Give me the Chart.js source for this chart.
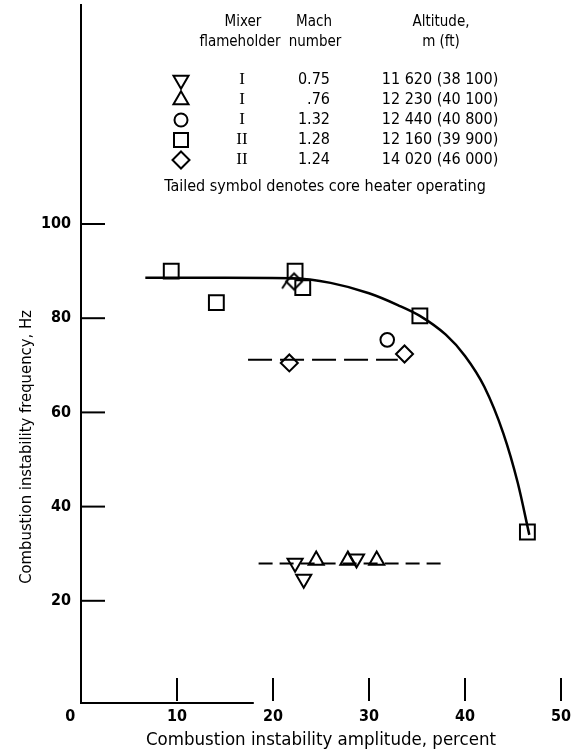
<!DOCTYPE html>
<html><head><meta charset="utf-8">
<script src="https://cdn.jsdelivr.net/npm/chart.js@4.4.0/dist/chart.umd.min.js"></script>
<style>html,body{margin:0;padding:0;background:#fff}#wrap{width:572px;height:752px;position:relative}</style>
</head><body><div id="wrap"><canvas id="c"></canvas></div>
<script>
// ---- data ----
const xTicks = [0, 10, 20, 30, 40, 50];
const yTicks = [20, 40, 60, 80, 100];
const squares  = [{x:9.4,y:90.0},{x:14.1,y:83.3},{x:22.3,y:90.0},{x:23.1,y:86.5},{x:35.3,y:80.5},{x:46.5,y:34.6}];
const circles  = [{x:31.9,y:75.4}];
const diamonds = [{x:21.7,y:70.5},{x:33.7,y:72.4}];
const triUp    = [{x:24.5,y:28.6},{x:27.8,y:28.6},{x:30.8,y:28.6}];
const triDown  = [{x:22.3,y:28.0},{x:23.2,y:24.6},{x:28.7,y:28.9}];
const tailed   = [{x:22.2,y:87.8}];
const curveX = [6.7, 15, 22, 26, 30, 33, 35.3, 38, 40, 42, 44, 45.5, 46.7];
const curveY = [88.6, 88.6, 88.5, 87.5, 85.3, 82.8, 80.5, 76.5, 72, 65.5, 55.5, 45, 34];
const dashHighX = [17.4, 33.0], dashHighY = [71.2, 71.2];
const dashLowX  = [18.5, 37.8], dashLowY  = [27.9, 27.9];
const xAxisLineEnd = 18;

const legendSymbols = ['triDown','triUp','circle','square','diamond'];
const flameholders  = ['I','I','I','II','II'];
const machNumbers   = ['0.75','.76','1.32','1.28','1.24'];
const altitudes     = ['11 620 (38 100)','12 230 (40 100)','12 440 (40 800)','12 160 (39 900)','14 020 (46 000)'];
const legendNote    = 'Tailed symbol denotes core heater operating';

const SANS = "'Liberation Sans Narrow','DejaVu Sans Condensed',sans-serif";
const SERIF = "'Liberation Serif','DejaVu Serif',serif";

// tailed-symbol point style
const tailImg = document.createElement('canvas');
tailImg.width = 30; tailImg.height = 30;
(function(){
  const g = tailImg.getContext('2d');
  g.strokeStyle = '#000'; g.lineWidth = 2;
  g.beginPath();
  g.moveTo(15, 7); g.lineTo(23, 15); g.lineTo(15, 23); g.lineTo(7, 15); g.closePath();
  g.stroke();
  g.beginPath(); g.moveTo(9, 13); g.lineTo(3, 22); g.stroke();
})();

const pts = arr => arr.map(p => ({x:p.x, y:p.y}));
const zipXY = (xs, ys) => xs.map((v,i) => ({x:v, y:ys[i]}));

function markerDS(data, style, radius, rotation){
  return {type:'scatter', data:pts(data), pointStyle:style, pointRadius:radius, pointHoverRadius:radius,
    pointRotation:rotation||0, borderColor:'#000', backgroundColor:'rgba(0,0,0,0)', pointBorderWidth:2, borderWidth:2, showLine:false};
}

function drawSym(ctx, kind, x, y){
  ctx.beginPath();
  if (kind==='triDown' || kind==='triUp'){
    const r = 8.7, s = kind==='triUp' ? 1 : -1;
    ctx.moveTo(x, y - s*r);
    ctx.lineTo(x + r*Math.cos(Math.PI/6), y + s*r/2);
    ctx.lineTo(x - r*Math.cos(Math.PI/6), y + s*r/2);
    ctx.closePath();
  } else if (kind==='circle'){
    ctx.arc(x, y, 6.5, 0, Math.PI*2);
  } else if (kind==='square'){
    ctx.rect(x-7, y-7, 14, 14);
  } else {
    ctx.moveTo(x, y-8.5); ctx.lineTo(x+8.5, y); ctx.lineTo(x, y+8.5); ctx.lineTo(x-8.5, y); ctx.closePath();
  }
  ctx.stroke();
}

const deco = {
  id:'deco',
  afterDraw(chart){
    const {ctx, chartArea:a} = chart;
    const xs = chart.scales.x, ys = chart.scales.y;
    ctx.save();
    ctx.strokeStyle = '#000'; ctx.lineWidth = 2;
    // inward ticks
    yTicks.forEach(v => { const py = ys.getPixelForValue(v); ctx.beginPath(); ctx.moveTo(a.left, py); ctx.lineTo(a.left+24, py); ctx.stroke(); });
    xTicks.filter(v => v>0).forEach(v => { const px = xs.getPixelForValue(v); ctx.beginPath(); ctx.moveTo(px, a.bottom-2); ctx.lineTo(px, a.bottom-25); ctx.stroke(); });
    // partial bottom axis line
    ctx.beginPath(); ctx.moveTo(a.left, a.bottom); ctx.lineTo(xs.getPixelForValue(xAxisLineEnd), a.bottom); ctx.stroke();
    // y title
    ctx.fillStyle = '#000';
    ctx.save();
    ctx.translate(27, 447); ctx.rotate(-Math.PI/2);
    ctx.font = "16.5px " + SANS; ctx.textAlign = 'center'; ctx.textBaseline = 'middle';
    ctx.fillText('Combustion instability frequency, Hz', 0, 0);
    ctx.restore();
    // legend table
    ctx.textBaseline = 'middle';
    ctx.font = "15px " + SANS; ctx.textAlign = 'center';
    ctx.fillText('Mixer', 243, 22); ctx.fillText('flameholder', 240, 42);
    ctx.fillText('Mach', 314, 22); ctx.fillText('number', 315, 42);
    ctx.fillText('Altitude,', 441, 22); ctx.fillText('m (ft)', 441, 42);
    const rowY = [80, 100, 120, 140, 160];
    legendSymbols.forEach((k,i) => {
      ctx.lineWidth = 2; drawSym(ctx, k, 181, rowY[i]);
      ctx.font = "17px " + SERIF; ctx.textAlign = 'center';
      ctx.fillText(flameholders[i], 242, rowY[i]);
      ctx.font = "16px " + SANS; ctx.textAlign = 'right';
      ctx.fillText(machNumbers[i], 330, rowY[i]);
      ctx.textAlign = 'center';
      ctx.fillText(altitudes[i], 440, rowY[i]);
    });
    ctx.textAlign = 'center';
    ctx.fillText(legendNote, 325, 187);
    ctx.restore();
  }
};

new Chart(document.getElementById('c'), {
  type:'scatter',
  data:{datasets:[
    {type:'line', data:zipXY(curveX, curveY), borderColor:'#000', borderWidth:2.5, pointRadius:0, cubicInterpolationMode:'monotone', fill:false},
    {type:'line', data:zipXY(dashHighX, dashHighY), borderColor:'#000', borderWidth:2, borderDash:[24,8], pointRadius:0, fill:false},
    {type:'line', data:zipXY(dashLowX, dashLowY), borderColor:'#000', borderWidth:2, borderDash:[14,7], pointRadius:0, fill:false},
    markerDS(squares, 'rect', 10.5),
    markerDS(circles, 'circle', 6.8),
    markerDS(diamonds, 'rectRot', 8.5),
    markerDS(triUp, 'triangle', 8.7, 0),
    markerDS(triDown, 'triangle', 8.7, 180),
    markerDS(tailed, tailImg, 10)
  ]},
  options:{
    responsive:true, maintainAspectRatio:false, animation:false,
    layout:{autoPadding:false, padding:{top:5, right:11, left:0, bottom:0}},
    plugins:{legend:{display:false}, tooltip:{enabled:false}},
    scales:{
      x:{type:'linear', min:0, max:50,
        afterBuildTicks(s){ s.ticks = xTicks.map(v => ({value:v})); },
        afterFit(s){ s.height = 49; s.paddingLeft = 0; s.paddingRight = 0; },
        grid:{display:false, drawTicks:false}, border:{display:false},
        ticks:{color:'#000', padding:4, font:{family:SANS, size:16, weight:'bold'}, maxRotation:0, autoSkip:false,
          callback(v){ return v === 0 ? '0\u2003\u2002' : String(v); }},
        title:{display:true, text:'Combustion instability amplitude, percent', color:'#000', font:{family:SANS, size:18.5}, padding:{top:2,bottom:1}}
      },
      y:{type:'linear', min:-1.7, max:146.5,
        afterBuildTicks(s){ s.ticks = yTicks.map(v => ({value:v})); },
        afterFit(s){ s.width = 81; s.paddingTop = 0; s.paddingBottom = 0; },
        grid:{display:false, drawTicks:false}, border:{display:true, color:'#000', width:2},
        ticks:{color:'#000', padding:10, font:{family:SANS, size:16, weight:'bold'}}
      }
    }
  },
  plugins:[deco]
});
</script></body></html>
